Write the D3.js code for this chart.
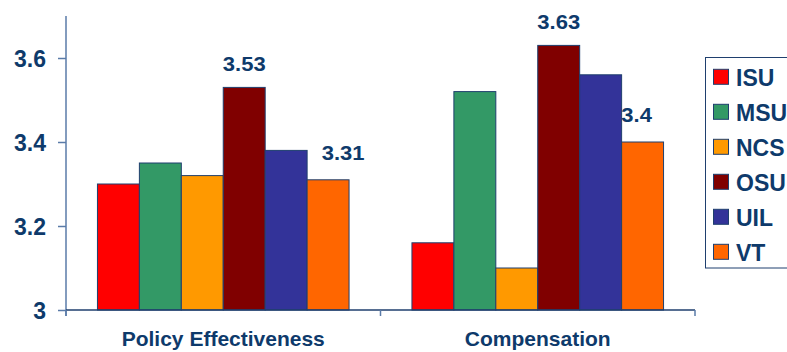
<!DOCTYPE html>
<html>
<head>
<meta charset="utf-8">
<script src="https://cdn.jsdelivr.net/npm/d3@7"></script>
<style>
  html, body { margin: 0; padding: 0; background: #fff; }
  svg { display: block; font-family: "Liberation Sans", Arial, sans-serif; }
</style>
</head>
<body>
<svg id="chart" width="787" height="352"></svg>
<script>
// Survey averages by category and institution
const categories = ["Policy Effectiveness", "Compensation"];
const schools = ["ISU", "MSU", "NCS", "OSU", "UIL", "VT"];
const colors = ["#FF0000", "#339966", "#FF9900", "#800000", "#333399", "#FF6600"];
const values = [
  [3.30, 3.35, 3.32, 3.53, 3.38, 3.31], // Policy Effectiveness
  [3.16, 3.52, 3.10, 3.63, 3.56, 3.40]  // Compensation
];
// Values printed above selected bars: [category index, school index, text]
const valueLabels = [
  [0, 3, "3.53"], [0, 5, "3.31"],
  [1, 3, "3.63"], [1, 5, "3.4"]
];
const yTicks = [3, 3.2, 3.4, 3.6];

const ink = "#0E3A6B";
const axisColor = "#5A7BA8";

const svg = d3.select("#chart");
const plotLeft = 66, plotRight = 695, plotTop = 16, plotBottom = 310;

const x0 = d3.scaleBand().domain(categories).range([plotLeft, plotRight]).padding(0);
// six bars fill the middle 80% of each category
const x1 = d3.scaleBand().domain(schools)
  .range([x0.bandwidth() * 0.1, x0.bandwidth() * 0.9]).padding(0);
const y = d3.scaleLinear().domain([3, 3.7]).range([plotBottom, plotTop]);

// Bars
const groups = svg.append("g").selectAll("g")
  .data(categories)
  .join("g")
  .attr("transform", d => `translate(${x0(d)},0)`);

groups.selectAll("rect")
  .data((c, ci) => schools.map((s, si) => ({ s, v: values[ci][si], color: colors[si] })))
  .join("rect")
  .attr("x", d => x1(d.s))
  .attr("y", d => y(d.v))
  .attr("width", x1.bandwidth())
  .attr("height", d => y(3) - y(d.v))
  .attr("fill", d => d.color)
  .attr("stroke", "#1F3F6E")
  .attr("stroke-width", 1);

// Y axis
const yAxis = svg.append("g")
  .attr("transform", `translate(${plotLeft},0)`)
  .call(d3.axisLeft(y).tickValues(yTicks).tickSize(8).tickPadding(12)
    .tickFormat(d => d3.format("")(d)));
yAxis.select(".domain").attr("stroke", axisColor).attr("stroke-width", 1.5)
  .attr("d", `M0,${plotTop}V${plotBottom + 6}`);
yAxis.selectAll(".tick line").attr("stroke", axisColor).attr("stroke-width", 1.5);
yAxis.selectAll(".tick text")
  .attr("fill", ink).attr("font-size", 23).attr("font-weight", "bold")
  .attr("dy", "0.36em");

// X axis with boundary ticks between categories
svg.append("line")
  .attr("x1", plotLeft).attr("x2", plotRight).attr("y1", plotBottom).attr("y2", plotBottom)
  .attr("stroke", "#1F3F6E").attr("stroke-width", 1.5);
const bounds = [plotLeft, x0(categories[1]), plotRight];
svg.append("g").selectAll("line")
  .data(bounds)
  .join("line")
  .attr("x1", d => d).attr("x2", d => d)
  .attr("y1", plotBottom).attr("y2", plotBottom + 6)
  .attr("stroke", axisColor).attr("stroke-width", 1.5);

svg.append("g").selectAll("text")
  .data(categories)
  .join("text")
  .attr("x", d => x0(d) + x0.bandwidth() / 2)
  .attr("y", 346)
  .attr("text-anchor", "middle")
  .attr("fill", ink)
  .attr("font-size", 21)
  .attr("font-weight", "bold")
  .text(d => d);

// Value labels, slightly widened; the labels over the last bar of each
// group are nudged up and sideways to sit clear of the neighbouring bar
const nudgeLast = { 0: [15, -4], 1: [-6, -4] };
svg.append("g").selectAll("text")
  .data(valueLabels)
  .join("text")
  .attr("transform", d => {
    const [dx, dy] = d[1] === schools.length - 1 ? nudgeLast[d[0]] : [0, 0];
    const cx = x0(categories[d[0]]) + x1(schools[d[1]]) + x1.bandwidth() / 2 + dx;
    const cy = y(values[d[0]][d[1]]) - 16 + dy;
    return `translate(${cx},${cy}) scale(1.1,1)`;
  })
  .attr("text-anchor", "middle")
  .attr("fill", ink)
  .attr("font-size", 20)
  .attr("font-weight", "bold")
  .text(d => d[2]);

// Legend
const legend = svg.append("g");
legend.append("rect")
  .attr("x", 705.5).attr("y", 57.5).attr("width", 120).attr("height", 210.5)
  .attr("fill", "#fff").attr("stroke", "#1F3F6E").attr("stroke-width", 1);
const items = legend.selectAll("g")
  .data(schools)
  .join("g")
  .attr("transform", (d, i) => `translate(0,${77.3 + i * 35})`);
items.append("rect")
  .attr("x", 713.5).attr("y", -8).attr("width", 15).attr("height", 15)
  .attr("fill", (d, i) => colors[i])
  .attr("stroke", "#1F3F6E").attr("stroke-width", 1);
items.append("text")
  .attr("x", 736).attr("y", 0).attr("dy", "0.36em")
  .attr("fill", ink)
  .attr("font-size", 23)
  .attr("font-weight", "bold")
  .text(d => d);
</script>
</body>
</html>
